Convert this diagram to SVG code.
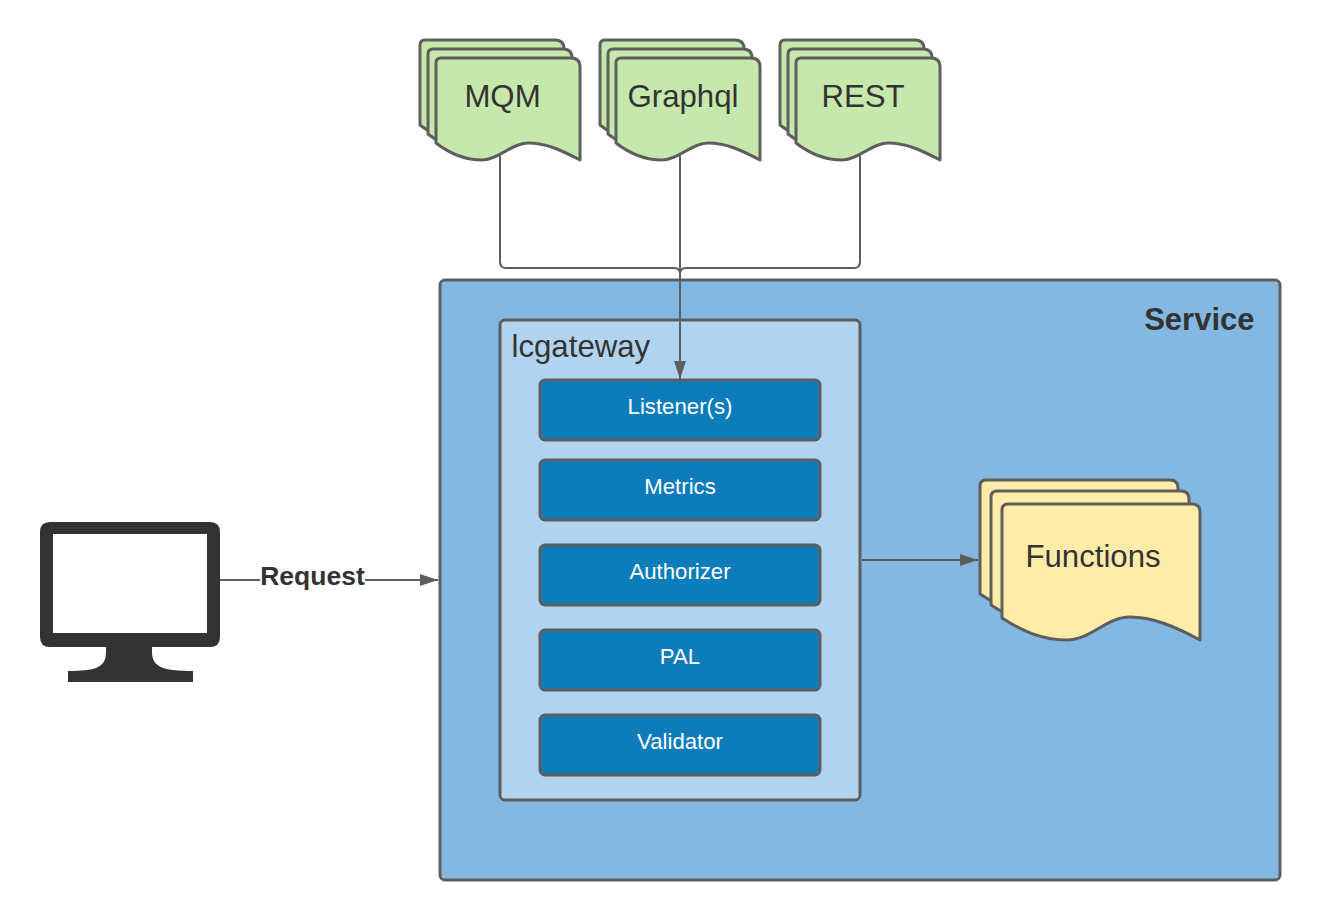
<svg xmlns="http://www.w3.org/2000/svg" width="1320" height="920" viewBox="0 0 1320 920">
<style>
text{font-family:"Liberation Sans",Arial,sans-serif;fill:#333}
.s{stroke:#5e5e5e;stroke-width:3;stroke-linejoin:round}
.g{fill:#c7e8ac}.y{fill:#ffeca9}
.b{fill:#0c7cba;stroke:#5e5e5e;stroke-width:3}
.l{fill:#fff;font-size:22.2px;text-anchor:middle}
.d{font-size:31.2px}
.c{fill:none;stroke:#5e5e5e;stroke-width:2}
</style>
<defs>
<path id="doc" d="M0 5Q0 0 5 0H135Q144 0 144 9V102C125 92 110 85 92 85C76 85 62 102 46 102C28 102 13 95 0 85Z"/>
<path id="fdoc" d="M0 6Q0 0 6 0H190Q198 0 198 8V136C172 122 150 113 128 113C104 113 89 136 65 136C40 136 20 127 0 114Z"/>
<marker id="a" markerUnits="userSpaceOnUse" markerWidth="18" markerHeight="12" refX="18" refY="6" orient="auto"><path d="M0 0L18 6L0 12Z" fill="#5e5e5e"/></marker>
</defs>
<g id="service"><rect x="440" y="280" width="840" height="600" rx="5" fill="#83b8e3" class="s"/><text x="1254.500" y="330" text-anchor="end" font-weight="bold" font-size="31px">Service</text></g>
<g id="lcgateway"><rect x="500" y="320" width="360" height="480" rx="5" fill="#b0d4ef" class="s"/><text x="511.500" y="357" class="d">lcgateway</text></g>
<g id="listener"><rect x="540" y="380" width="280" height="60" rx="5" class="b"/><text x="680" y="414" class="l">Listener(s)</text></g>
<g id="metrics"><rect x="540" y="460" width="280" height="60" rx="5" class="b"/><text x="680" y="494" class="l">Metrics</text></g>
<g id="authorizer"><rect x="540" y="545" width="280" height="60" rx="5" class="b"/><text x="680" y="579" class="l">Authorizer</text></g>
<g id="pal"><rect x="540" y="630" width="280" height="60" rx="5" class="b"/><text x="680" y="664" class="l">PAL</text></g>
<g id="validator"><rect x="540" y="715" width="280" height="60" rx="5" class="b"/><text x="680" y="749" class="l">Validator</text></g>
<g id="mqm" class="g s"><use href="#doc" x="420" y="40"/><use href="#doc" x="428" y="49"/><use href="#doc" x="436" y="58"/><text x="502.500" y="107" text-anchor="middle" class="d" stroke="none" style="fill:#333">MQM</text></g>
<g id="graphql" class="g s"><use href="#doc" x="600" y="40"/><use href="#doc" x="608" y="49"/><use href="#doc" x="616" y="58"/><text x="683" y="107" text-anchor="middle" class="d" stroke="none" style="fill:#333">Graphql</text></g>
<g id="rest" class="g s"><use href="#doc" x="780" y="40"/><use href="#doc" x="788" y="49"/><use href="#doc" x="796" y="58"/><text x="863" y="107" text-anchor="middle" class="d" stroke="none" style="fill:#333">REST</text></g>
<g id="functions" class="y s"><use href="#fdoc" x="980" y="480"/><use href="#fdoc" x="991" y="491"/><use href="#fdoc" x="1002" y="504"/><text x="1093" y="567" text-anchor="middle" class="d" stroke="none" style="fill:#333">Functions</text></g>
<g id="monitor"><path fill="#333" fill-rule="evenodd" d="M50 522H210Q220 522 220 532V637Q220 647 210 647H152V652C152 668 165 671 193 671V682H68V671C95 671 106 668 106 652V647H50Q40 647 40 637V532Q40 522 50 522ZM53 534V633H207V534Z"/><rect x="53" y="534" width="154" height="99" fill="#fff"/></g>
<g id="connectors">
<path class="c" d="M500 156V262Q500 268 506 268H674Q680 268 680 274"/>
<path class="c" d="M860 156V262Q860 268 854 268H686Q680 268 680 274"/>
<path class="c" d="M680 156V379" marker-end="url(#a)"/>
<path class="c" d="M220 580H438" marker-end="url(#a)"/>
<path class="c" d="M862 560H978" marker-end="url(#a)"/>
</g>
<g id="request-label"><rect x="260" y="564" width="105" height="28" fill="#fff"/><text x="312.500" y="585" text-anchor="middle" font-weight="bold" font-size="26.500px">Request</text></g>
</svg>
